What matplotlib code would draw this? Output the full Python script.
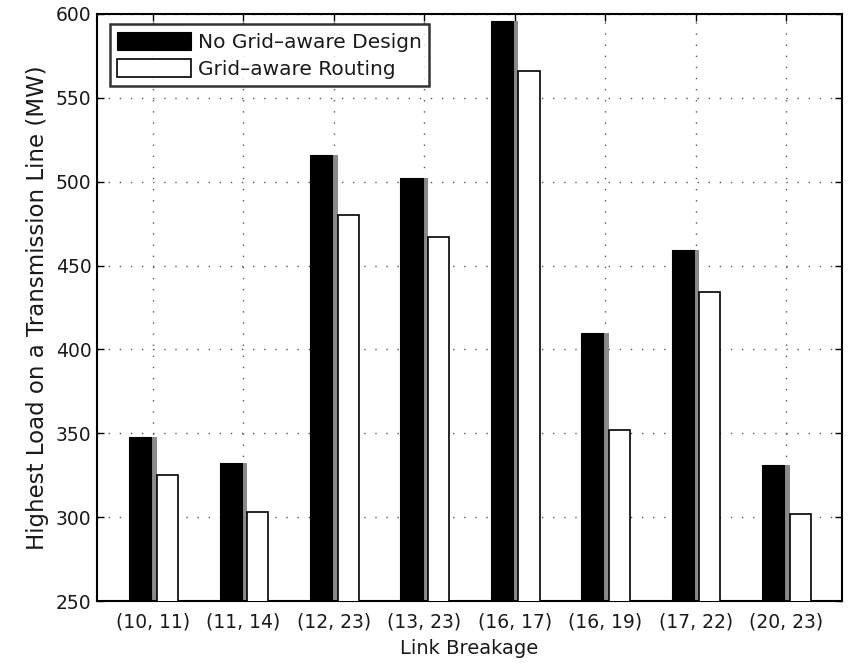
import numpy as np
import matplotlib.pyplot as plt

plt.rcParams['font.family'] = ['DejaVu Sans']

# 断链场景与两种方案的最高线路负载 (MW)
link_labels = ['(10, 11)', '(11, 14)', '(12, 23)', '(13, 23)',
               '(16, 17)', '(16, 19)', '(17, 22)', '(20, 23)']
no_grid_aware = [348, 332, 516, 502, 596, 410, 459, 331]
grid_aware_routing = [325, 303, 480, 467, 566, 352, 434, 302]

FONT_SIZE = 13.5
TEXT_COLOR = '#1a1a1a'


def main():
    fig = plt.figure(figsize=(8.48, 6.63), dpi=100)
    ax = fig.add_axes([0.1144, 0.0935, 0.8786, 0.8855])

    x = np.arange(1, len(link_labels) + 1)

    # 黑色柱体右侧的灰色阴影条
    ax.bar(x - 0.02, no_grid_aware, width=0.06, align='edge',
           color='#8a8a8a', edgecolor='none', zorder=2)
    ax.bar(x - 0.265, no_grid_aware, width=0.245, align='edge',
           color='black', edgecolor='black', linewidth=0.8, zorder=3,
           label='No Grid\u2013aware Design')
    ax.bar(x + 0.04, grid_aware_routing, width=0.235, align='edge',
           color='white', edgecolor='black', linewidth=1.2, zorder=3,
           label='Grid\u2013aware Routing')

    ax.set_xlim(0.38, 8.62)
    ax.set_ylim(250, 600)
    ax.set_xticks(x)
    ax.set_xticklabels(link_labels, fontsize=FONT_SIZE, color=TEXT_COLOR)
    ax.set_yticks(np.arange(250, 601, 50))
    ax.tick_params(axis='y', labelsize=FONT_SIZE, labelcolor=TEXT_COLOR, pad=4)
    ax.tick_params(axis='x', pad=8)
    ax.tick_params(direction='in', top=True, right=True, length=5, width=1)

    ax.grid(True, linestyle=(0, (1, 7)), color='#555555', linewidth=1.0)
    ax.set_axisbelow(True)
    for spine in ax.spines.values():
        spine.set_linewidth(1.5)

    ax.set_xlabel('Link Breakage', fontsize=14, labelpad=6, color=TEXT_COLOR)
    ax.set_ylabel('Highest Load on a Transmission Line (MW)', fontsize=16.5,
                  labelpad=5, color=TEXT_COLOR)

    leg = ax.legend(loc='upper left', bbox_to_anchor=(0.017, 0.982), fontsize=14.5,
                    frameon=True, fancybox=False, edgecolor='black',
                    handlelength=3.7, handleheight=1.05, handletextpad=0.35,
                    borderpad=0.35, labelspacing=0.35, borderaxespad=0)
    leg.get_frame().set_linewidth(1.8)
    leg.set_zorder(5)
    for text in leg.get_texts():
        text.set_color(TEXT_COLOR)

    plt.savefig('out.png', dpi=100)
    plt.close()


if __name__ == "__main__":
    main()
